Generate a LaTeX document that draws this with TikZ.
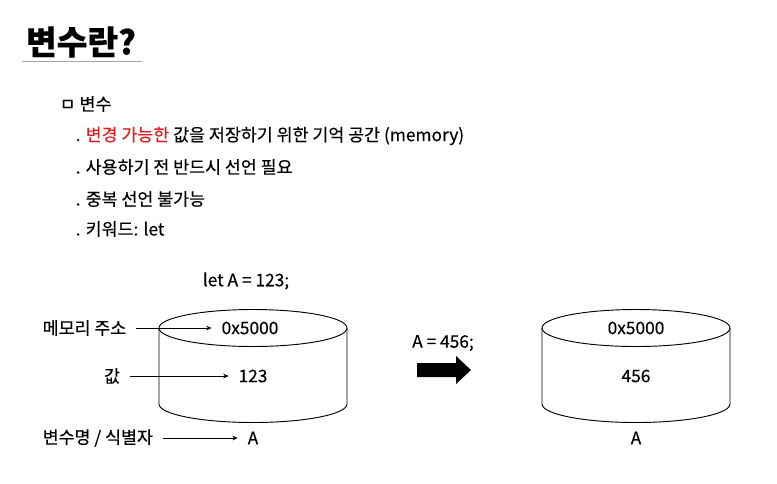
\documentclass[tikz,border=0pt]{standalone}
\usepackage{fontspec}
\setmainfont{Noto Sans CJK KR}[FakeBold=0.3]
\usepackage{xcolor}
\usetikzlibrary{arrows.meta}
\definecolor{keyred}{RGB}{222,30,30}

\begin{document}
\begin{tikzpicture}[x=0.75pt, y=-0.75pt, font=\fontsize{13}{15}\selectfont,
    conn/.style={-{Stealth[length=4pt, width=3.5pt]}, line width=0.5pt, shorten <=4pt, shorten >=4pt},
    drum/.style={line width=0.7pt}]
    \useasboundingbox (0,0) rectangle (777,483);

    % Titel
    \node[font=\bfseries\fontsize{25}{28}\selectfont] (title) at (81,42) {변수란?};
    \draw[gray!70, line width=0.6pt] (22,61) -- (142,61);

    % Stichpunkte
    \node[anchor=west] (head) at (55,104) {ㅁ 변수};
    \node[anchor=west] (line1) at (71,136) {. \textcolor{keyred}{변경 가능한} 값을 저장하기 위한 기억 공간 (memory)};
    \node[anchor=west] (line2) at (71,167) {. 사용하기 전 반드시 선언 필요};
    \node[anchor=west] (line3) at (71,199) {. 중복 선언 불가능};
    \node[anchor=west] (line4) at (71,229) {. 키워드: let};

    % Speicher vorher / nachher
    \foreach \cx in {253,636} {
        \draw[drum] (\cx-94,328) -- (\cx-94,404)
            arc[start angle=180, end angle=0, x radius=94, y radius=18.5] -- (\cx+94,328);
        \draw[drum] (\cx,328) ellipse[x radius=94, y radius=18.5];
    }

    \node (decl) at (246,281) {let A = 123;};
    \node (addrL) at (250,328) {0x5000};
    \node (valL) at (253,376) {123};
    \node (nameL) at (253,438) {A};

    \node (assign) at (443,343) {A = 456;};
    \node (addrR) at (636,328) {0x5000};
    \node (valR) at (636,376) {456};
    \node (nameR) at (636,438) {A};

    % Beschriftungen links
    \node[anchor=west] (addrlabel) at (38,328) {메모리 주소};
    \node (vallabel) at (112,376) {값};
    \node[anchor=west] (namelabel) at (38,438) {변수명 / 식별자};
    \draw[conn] (addrlabel) -- (addrL);
    \draw[conn] (vallabel) -- (valL);
    \draw[conn] (namelabel) -- (nameL);

    % Blockpfeil
    \fill[black] (417,363) -- (456,363) -- (456,356) -- (471,370) -- (456,384)
        -- (456,377) -- (417,377) -- cycle;
\end{tikzpicture}
\end{document}
